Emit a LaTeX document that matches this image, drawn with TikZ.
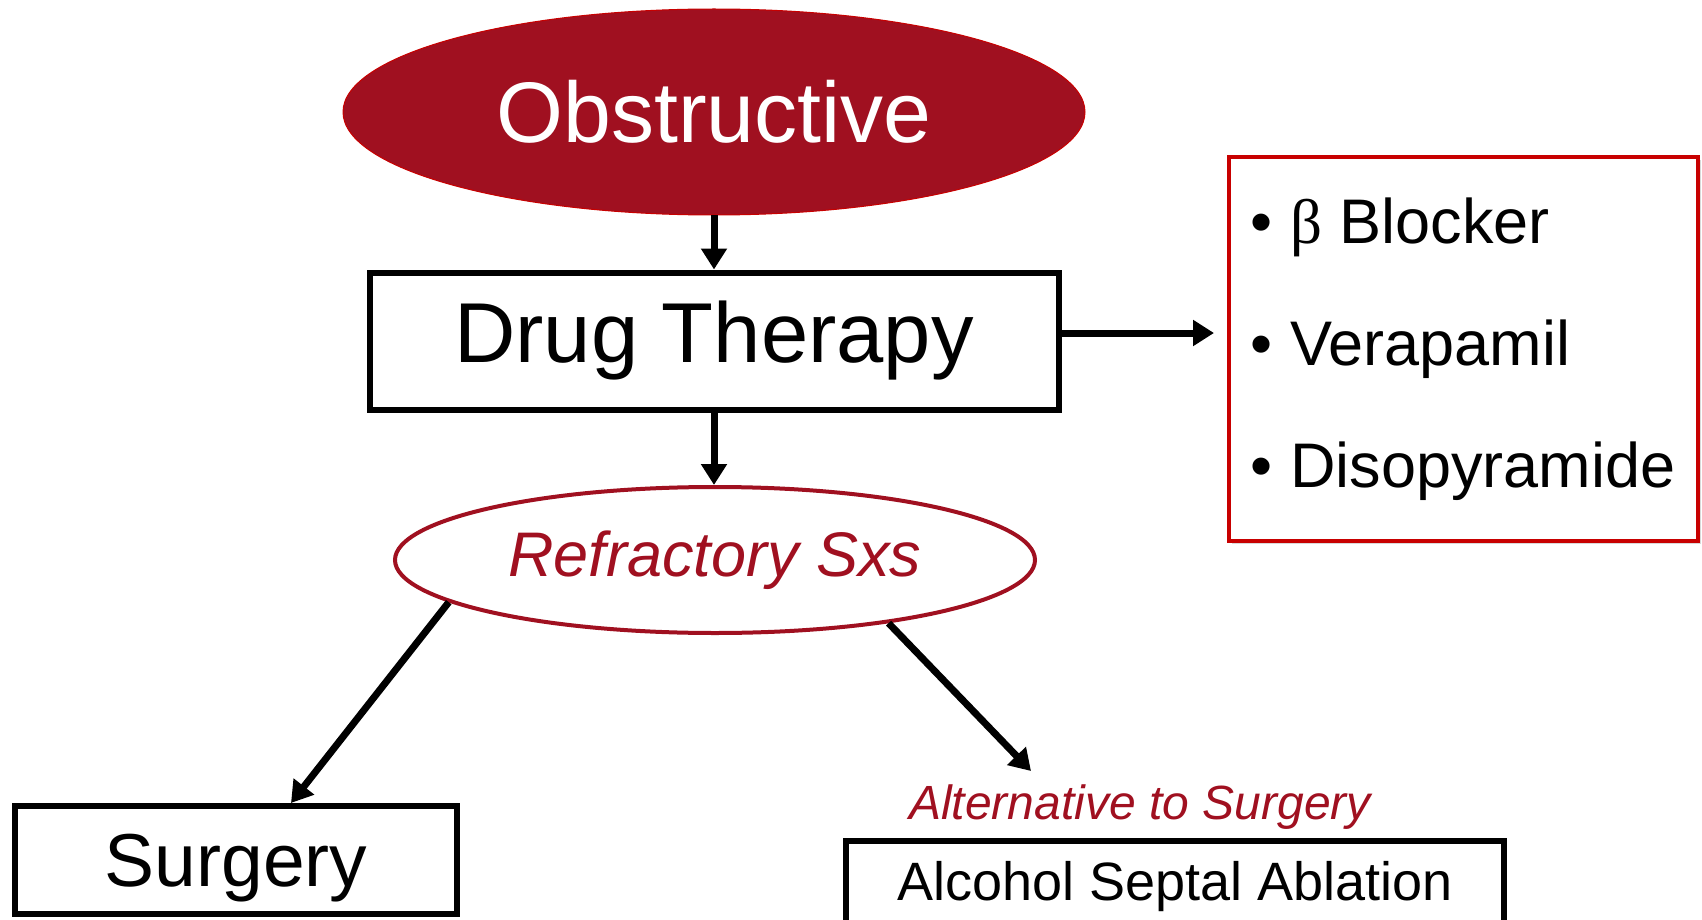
\documentclass[tikz,border=0pt]{standalone}
\usepackage{fontspec}
\setmainfont{Liberation Sans}
\newfontfamily\greekfont{Liberation Serif}
\usetikzlibrary{shapes.geometric,arrows.meta,shadows}
\definecolor{darkred}{RGB}{160,16,32}
\definecolor{boxred}{RGB}{200,0,0}

\begin{document}
\begin{tikzpicture}[x=1pt, y=-1pt,
    every node/.style = {align=center, inner sep=0pt},
    box/.style = {shape=rectangle, draw, line width=6pt},
    oval/.style = {shape=ellipse},
    arr/.style = {line width=7pt, -{Triangle[width=25pt,length=21pt]}}]
    \useasboundingbox (0,0) rectangle (1702,920);
    \node (obst) [oval, fill=darkred, draw=boxred, line width=1pt,
      minimum width=742pt, minimum height=206pt, text=white,
      font=\fontsize{86}{90}\selectfont] at (714,112) {Obstructive};
    \node (drug) [box, minimum width=689pt, minimum height=137pt,
      font=\fontsize{85}{90}\selectfont] at (714,341) {Drug Therapy};
    \node (drugs) [box, draw=boxred, line width=4pt, fill=white,
      minimum width=469pt, minimum height=384pt, align=left,
      drop shadow={shadow xshift=3pt, shadow yshift=-3pt, opacity=.3},
      font=\fontsize{63}{122}\selectfont] at (1463,349)
      {• {\greekfont β} Blocker\\ • Verapamil\\ • Disopyramide};
    \node (refr) [oval, draw=darkred, line width=4pt, text=darkred,
      minimum width=640pt, minimum height=146pt,
      font=\fontsize{63}{70}\selectfont\itshape] at (715,560) {Refractory Sxs};
    \node (surg) [box, minimum width=442pt, minimum height=108pt, text depth=0pt,
      font=\fontsize{75}{80}\selectfont] at (236,860) {Surgery};
    \node (alt) [text=darkred, font=\fontsize{48}{52}\selectfont\itshape]
      at (1140,807) {Alternative to Surgery};
    \node (asa) [box, minimum width=658pt, minimum height=92pt,
      font=\fontsize{54}{60}\selectfont] at (1175,887) {Alcohol Septal Ablation};
    \coordinate (drugtip) at (1214,333);
    \coordinate (asatip) at (1031,771);
    % connectors
    \draw[arr] (obst.south) -- (drug.north);
    \draw[arr] (drug.south) -- (drug.south |- refr.north);
    \draw[arr] (drug.east |- drugtip) -- (drugtip);
    \draw[arr] (refr.189) -- ([xshift=55pt]surg.north);
    \draw[arr] (refr.340) -- (asatip);
\end{tikzpicture}
\end{document}
